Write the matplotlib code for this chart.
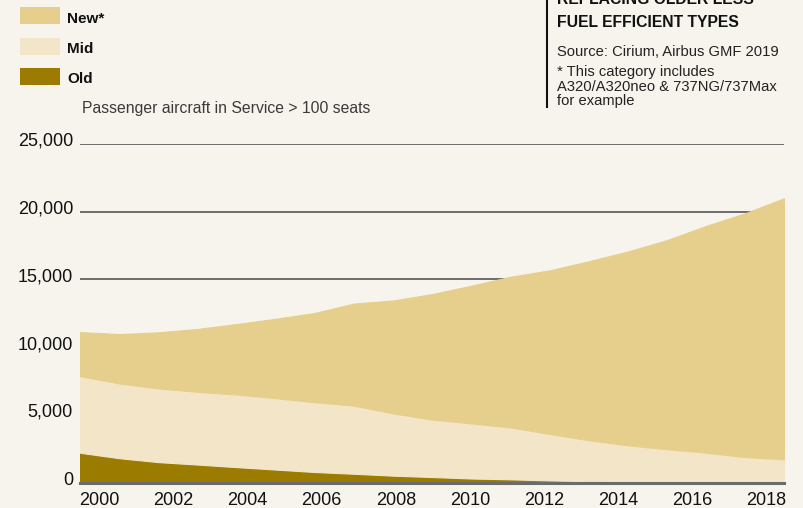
import matplotlib
matplotlib.use("Agg")
import matplotlib.pyplot as plt
import matplotlib.transforms as mtransforms
from matplotlib.patches import Rectangle
from matplotlib.lines import Line2D
import numpy as np

# ---- data ----
years = list(range(2000, 2019))
old = [2210, 1810, 1520, 1340, 1150, 970, 790, 660, 520, 420, 310, 250, 170, 110, 70, 40, 20, 10, 5]
mid = [5660, 5520, 5440, 5370, 5360, 5270, 5150, 5030, 4600, 4240, 4070, 3830, 3430, 3030, 2690, 2430, 2200, 1880, 1720]
new = [3250, 3640, 4140, 4640, 5200, 5860, 6590, 7530, 8330, 9260, 10160, 11120, 12070, 13200, 14300, 15430, 16730, 17990, 19270]
series_names = ["New*", "Mid", "Old"]
yticks = [0, 5000, 10000, 15000, 20000, 25000]
ytick_labels = ["0", "5,000", "10,000", "15,000", "20,000", "25,000"]
xtick_labels = ["2000", "2002", "2004", "2006", "2008", "2010", "2012", "2014", "2016", "2018"]

BG = "#F7F4ED"
C_NEW = "#E6CF8D"
C_MID = "#F3E6C8"
C_OLD = "#9C7C00"

FONT = ["Liberation Sans", "DejaVu Sans"]
plt.rcParams["font.family"] = FONT

W, H = 804, 508
fig = plt.figure(figsize=(W / 100, H / 100), dpi=100, facecolor=BG)
ax = fig.add_axes([80 / W, 1 - 482.7 / H, 704 / W, (482.7 - 144) / H])
ax.set_facecolor(BG)

ax.set_xlim(years[0], years[-1])
ax.set_ylim(0, 25000)

for v in yticks[1:]:
    ax.axhline(v, color="#555555", lw=1.2, zorder=1)

polys = ax.stackplot(years, old, mid, new, colors=[C_OLD, C_MID, C_NEW], lw=0.8, zorder=2)
for p, c in zip(polys, [C_OLD, C_MID, C_NEW]):
    p.set_edgecolor(c)
ax.axhline(0, color="#6b6b6b", lw=2.2, zorder=5, clip_on=False)

for s in ax.spines.values():
    s.set_visible(False)

ax.set_yticks(yticks)
ax.set_yticklabels(ytick_labels)
ax.tick_params(axis="y", length=0, pad=5, labelsize=13, labelcolor="#111111")
off = mtransforms.ScaledTranslation(0, -2 / 100, fig.dpi_scale_trans)
for lab in ax.get_yticklabels():
    lab.set_verticalalignment("baseline")
    lab.set_transform(lab.get_transform() + off)

label_pos = np.linspace(years[0] + 0.5, years[-1] - 0.46, len(xtick_labels))
ax.set_xticks(label_pos)
ax.set_xticklabels(xtick_labels)
ax.tick_params(axis="x", length=0, pad=7, labelsize=13, labelcolor="#111111")

# ---- legend ----
leg_colors = [C_NEW, C_MID, C_OLD]
box_bottom = [24, 54.7, 85]
text_base = [22.7, 53.3, 83.3]
for name, c, yb, tb in zip(series_names, leg_colors, box_bottom, text_base):
    fig.patches.append(Rectangle((20 / W, 1 - yb / H), 40 / W, 17 / H,
                                 transform=fig.transFigure, facecolor=c, edgecolor="none"))
    fig.text(67 / W, 1 - tb / H, name, fontsize=11, fontweight="bold",
             va="baseline", ha="left", color="#111111")

fig.text(82 / W, 1 - 113.3 / H, "Passenger aircraft in Service > 100 seats",
         fontsize=11.3, color="#3a3a3a", va="baseline", ha="left")

# ---- side note ----
fig.add_artist(Line2D([547 / W, 547 / W], [1, 1 - 107 / H],
                      transform=fig.transFigure, color="#111111", lw=1.5))
fig.text(557 / W, 1 - 4 / H, "REPLACING OLDER LESS", fontsize=11.3, fontweight="bold",
         va="baseline", ha="left", color="#111111")
fig.text(557 / W, 1 - 27.3 / H, "FUEL EFFICIENT TYPES", fontsize=11.3, fontweight="bold",
         va="baseline", ha="left", color="#111111")
fig.text(557 / W, 1 - 56 / H, "Source: Cirium, Airbus GMF 2019", fontsize=10.6,
         va="baseline", ha="left", color="#222222")
note_lines = ["* This category includes", "A320/A320neo & 737NG/737Max", "for example"]
for line, b in zip(note_lines, [76, 90.7, 105.5]):
    fig.text(557 / W, 1 - b / H, line, fontsize=10.6, va="baseline", ha="left", color="#222222")

fig.savefig("out.png", dpi=100, facecolor=BG)
